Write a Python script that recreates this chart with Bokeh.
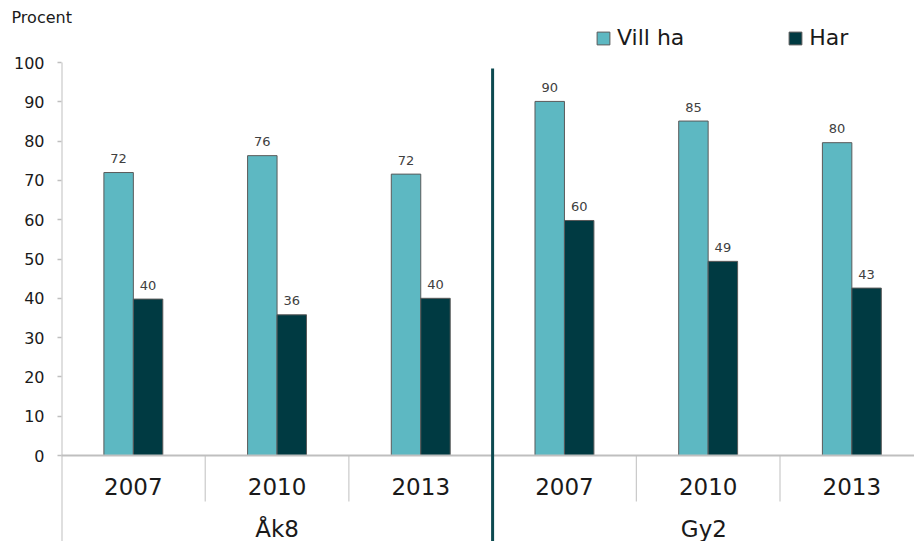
from bokeh.plotting import figure
from bokeh.models import FixedTicker, Legend, LegendItem, ColumnDataSource, Title
from bokeh.core.properties import value
from bokeh.embed import file_html
from bokeh.resources import INLINE

# ---- data ----
years = ["2007", "2010", "2013", "2007", "2010", "2013"]
groups = ["Åk8", "Gy2"]
vill_ha = [72.0, 76.3, 71.6, 90.1, 85.1, 79.6]
har = [39.8, 35.8, 40.0, 59.8, 49.4, 42.6]
y_ticks = [0, 10, 20, 30, 40, 50, 60, 70, 80, 90, 100]

# ---- layout constants ----
W, H = 914, 541
LEFT = 61
TOP = 26
FRAME_H = H - TOP
PX_PER_UNIT = 3.93
GROUP_PX = 143.7
Y0_FROM_BOTTOM = 86
y_start = -Y0_FROM_BOTTOM / PX_PER_UNIT
y_end = y_start + FRAME_H / PX_PER_UNIT
x_end = (W - LEFT) / GROUP_PX

C_LIGHT = "#5DB8C2"
C_DARK = "#003A42"
C_DIV = "#0D4A50"
C_AXIS = "#BFBFBF"
FONT = "DejaVu Sans"

p = figure(width=W, height=H, x_range=(0, x_end), y_range=(y_start, y_end),
           output_backend="svg", toolbar_location=None, x_axis_location=None,
           min_border_left=LEFT, min_border_right=0, min_border_top=TOP,
           min_border_bottom=0, outline_line_color=None, title=None)
p.xgrid.visible = False
p.ygrid.visible = False

p.add_layout(Title(text="Procent", align="left", offset=-50, text_font=FONT,
                   text_font_size="16px", text_font_style="normal",
                   text_color="#1a1a1a", standoff=0), "above")

yax = p.yaxis[0]
yax.ticker = FixedTicker(ticks=y_ticks)
yax.axis_line_alpha = 0
yax.major_tick_out = 4
yax.major_tick_in = 0
yax.minor_tick_line_color = None
yax.major_tick_line_color = C_AXIS
yax.major_tick_line_width = 1.5
yax.major_label_standoff = 13
yax.major_label_text_font = FONT
yax.major_label_text_font_size = "16px"
yax.major_label_text_color = "#1a1a1a"

n = len(years)
bw = 0.205
xs_l = [i + 0.5 - bw / 2 for i in range(n)]
xs_d = [i + 0.5 + bw / 2 for i in range(n)]

src_l = ColumnDataSource(dict(x=xs_l, top=vill_ha, lab=[f"{v:.0f}" for v in vill_ha]))
src_d = ColumnDataSource(dict(x=xs_d, top=har, lab=[f"{v:.0f}" for v in har]))

r_l = p.vbar(x="x", top="top", bottom=0, width=bw, source=src_l,
             fill_color=C_LIGHT, line_color="#5a5a5a", line_width=1)
r_d = p.vbar(x="x", top="top", bottom=0, width=bw, source=src_d,
             fill_color=C_DARK, line_color="#5a5a5a", line_width=1)

for s in (src_l, src_d):
    p.text(x="x", y="top", text="lab", source=s, text_align="center",
           text_baseline="middle", y_offset=-14, text_font=value(FONT),
           text_font_size="13px", text_color="#404040")

# axis lines
p.segment(x0=[0], y0=[100], x1=[0], y1=[y_start], line_color=C_AXIS, line_width=2)
p.segment(x0=[-0.03], y0=[0], x1=[x_end], y1=[0], line_color=C_AXIS, line_width=2)
sep_len = 46 / PX_PER_UNIT
sep_x = [1, 2, 4, 5]
p.segment(x0=sep_x, y0=[0] * 4, x1=sep_x, y1=[-sep_len] * 4, line_color=C_AXIS, line_width=1)
p.segment(x0=[3], y0=[98.5], x1=[3], y1=[y_start], line_color=C_DIV, line_width=3)

# category labels
p.text(x=[i + 0.5 for i in range(n)], y=[0] * n, text=years, y_offset=31,
       text_align="center", text_baseline="alphabetic", text_font=value(FONT),
       text_font_size="23px", text_color="#1a1a1a")
p.text(x=[1.5, 4.47], y=[0, 0], text=groups, y_offset=73,
       text_align="center", text_baseline="alphabetic", text_font=value(FONT),
       text_font_size="23px", text_color="#1a1a1a")

legend = Legend(items=[LegendItem(label="Vill ha", renderers=[r_l]),
                       LegendItem(label="Har", renderers=[r_d])],
                orientation="horizontal", location=(534, 491),
                glyph_width=16, glyph_height=16, label_standoff=6, spacing=103,
                padding=0, margin=0, border_line_color=None,
                background_fill_alpha=0, label_text_font=FONT,
                label_text_font_size="22px", label_text_color="#1a1a1a")
p.add_layout(legend)

open("out.html", "w").write(file_html(p, INLINE))
